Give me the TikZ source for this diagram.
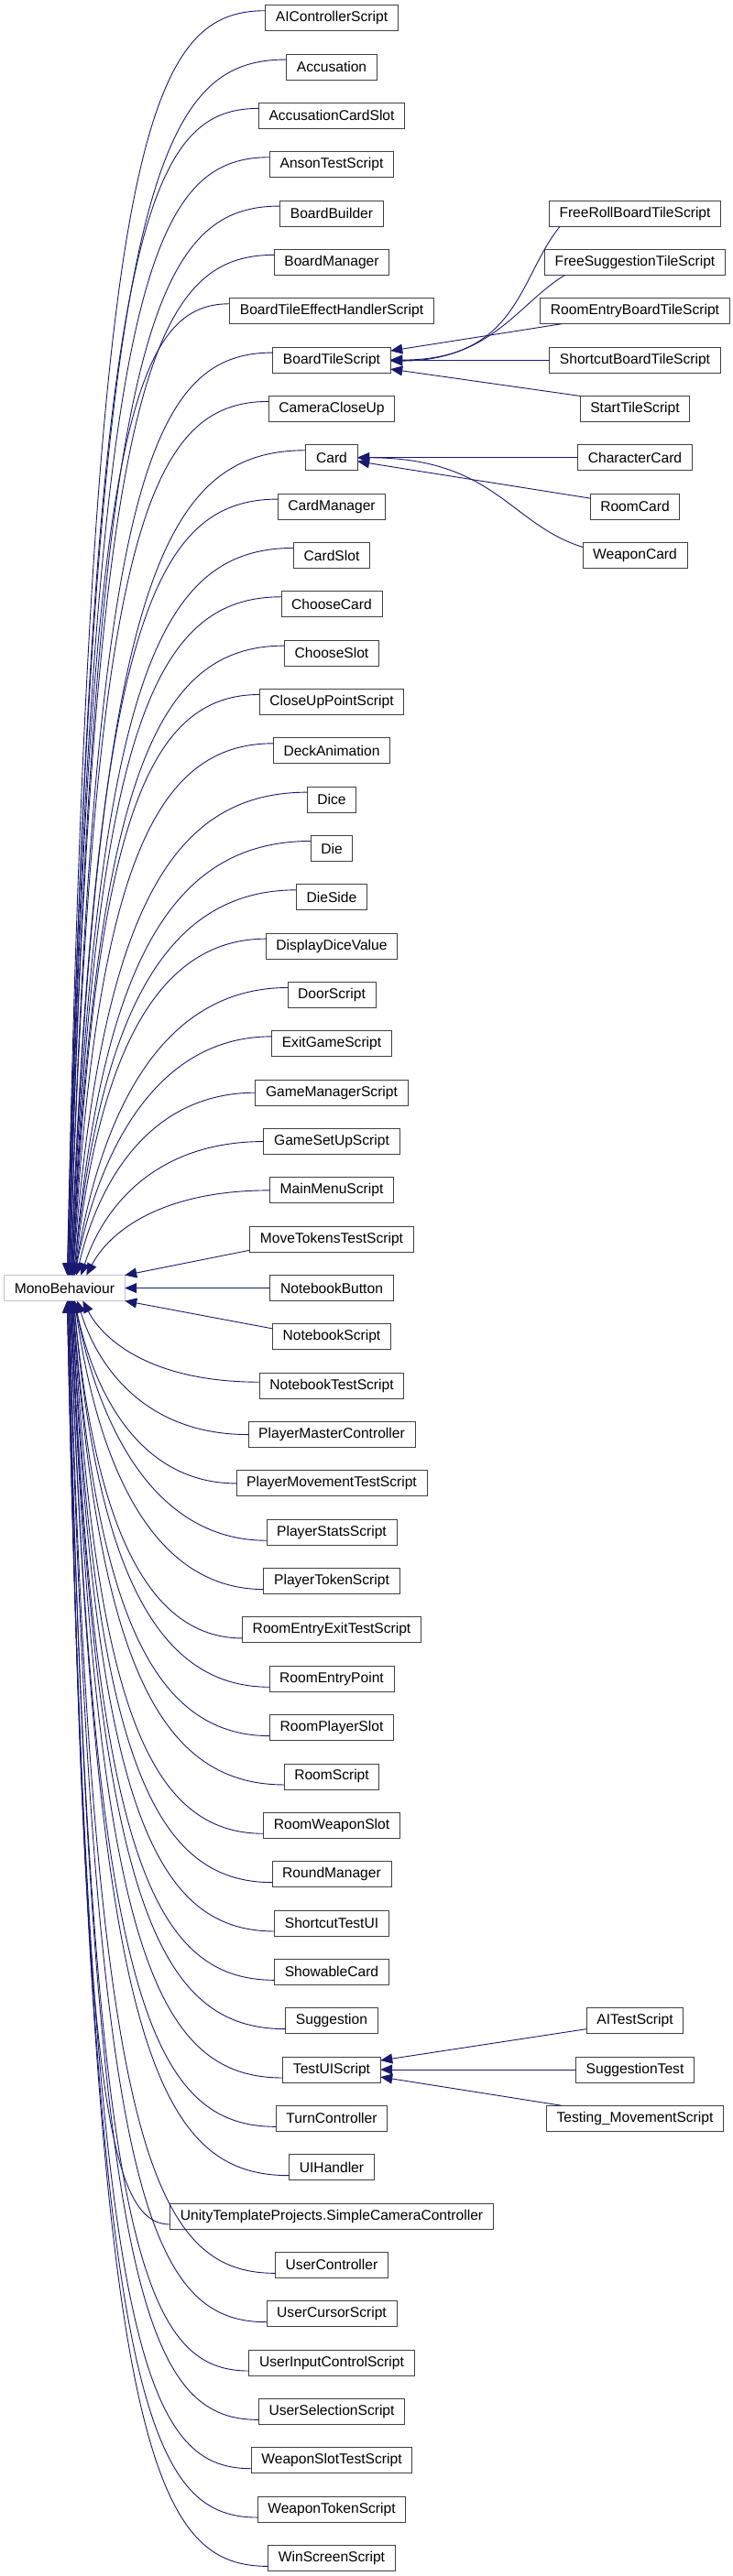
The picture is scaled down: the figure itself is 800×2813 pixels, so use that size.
\documentclass[tikz,border=0pt]{standalone}
\usepackage{fontspec}
\setmainfont{Liberation Sans}
\usepackage{xcolor}
\usepackage{tikz}
\usetikzlibrary{arrows.meta, positioning, calc}

\definecolor{navy}{RGB}{25,25,112}
\definecolor{boxline}{RGB}{64,64,64}
\definecolor{basegray}{RGB}{191,191,191}

\begin{document}
\begin{tikzpicture}[
    x=1pt, y=-1pt,
    node distance=25.34pt,
    cls/.style={rectangle, draw=boxline, line width=0.9pt, fill=white,
                minimum height=28pt, inner xsep=11.2pt, inner ysep=0pt,
                outer sep=0pt, font=\fontsize{15.6}{18}\selectfont},
    baseclass/.style={cls, draw=basegray},
    inh/.style={draw=navy, line width=0.9pt, -{Triangle[length=13pt, width=11pt]}},
    fandown/.style={to path={let \p1=(\tikztostart), \p2=(\tikztotarget),
        \n1={abs(\x1-\x2)}, \n2={min(140, 0.5*abs(\y1-\y2))} in
        .. controls (\x1-0.6*\n1, \y1) and (\x2+0.12*\n1, \y1-\n2) .. (\p2)}},
    fanup/.style={to path={let \p1=(\tikztostart), \p2=(\tikztotarget),
        \n1={abs(\x1-\x2)}, \n2={min(140, 0.5*abs(\y1-\y2))} in
        .. controls (\x1-0.6*\n1, \y1) and (\x2+0.12*\n1, \y1+\n2) .. (\p2)}},
]
\useasboundingbox (0,0) rectangle (800,2813);

% Derived classes column
\node[cls] (aicontrol) at (362,19.7) {AIControllerScript};
\node[cls, below=of aicontrol] (accusation) {Accusation};
\node[cls, below=of accusation] (accslot) {AccusationCardSlot};
\node[cls, below=of accslot] (anson) {AnsonTestScript};
\node[cls, below=of anson] (bbuilder) {BoardBuilder};
\node[cls, below=of bbuilder] (bmanager) {BoardManager};
\node[cls, below=of bmanager] (btehandler) {BoardTileEffectHandlerScript};
\node[cls, below=of btehandler] (btile) {BoardTileScript};
\node[cls, below=of btile] (camclose) {CameraCloseUp};
\node[cls, below=of camclose] (card) {Card};
\node[cls, below=of card] (cardmgr) {CardManager};
\node[cls, below=of cardmgr] (cardslot) {CardSlot};
\node[cls, below=of cardslot] (choosecard) {ChooseCard};
\node[cls, below=of choosecard] (chooseslot) {ChooseSlot};
\node[cls, below=of chooseslot] (closeup) {CloseUpPointScript};
\node[cls, below=of closeup] (deckanim) {DeckAnimation};
\node[cls, below=of deckanim] (dice) {Dice};
\node[cls, below=of dice] (die) {Die};
\node[cls, below=of die] (dieside) {DieSide};
\node[cls, below=of dieside] (dispdice) {DisplayDiceValue};
\node[cls, below=of dispdice] (door) {DoorScript};
\node[cls, below=of door] (exitgame) {ExitGameScript};
\node[cls, below=of exitgame] (gamemgr) {GameManagerScript};
\node[cls, below=of gamemgr] (gamesetup) {GameSetUpScript};
\node[cls, below=of gamesetup] (mainmenu) {MainMenuScript};
\node[cls, below=of mainmenu] (movetokens) {MoveTokensTestScript};
\node[cls, below=of movetokens] (nbbutton) {NotebookButton};
\node[cls, below=of nbbutton] (nbscript) {NotebookScript};
\node[cls, below=of nbscript] (nbtest) {NotebookTestScript};
\node[cls, below=of nbtest] (plmaster) {PlayerMasterController};
\node[cls, below=of plmaster] (plmovetest) {PlayerMovementTestScript};
\node[cls, below=of plmovetest] (plstats) {PlayerStatsScript};
\node[cls, below=of plstats] (pltoken) {PlayerTokenScript};
\node[cls, below=of pltoken] (reexittest) {RoomEntryExitTestScript};
\node[cls, below=of reexittest] (rentry) {RoomEntryPoint};
\node[cls, below=of rentry] (rplslot) {RoomPlayerSlot};
\node[cls, below=of rplslot] (rscript) {RoomScript};
\node[cls, below=of rscript] (rweapslot) {RoomWeaponSlot};
\node[cls, below=of rweapslot] (roundmgr) {RoundManager};
\node[cls, below=of roundmgr] (shortcutui) {ShortcutTestUI};
\node[cls, below=of shortcutui] (showable) {ShowableCard};
\node[cls, below=of showable] (suggestion) {Suggestion};
\node[cls, below=of suggestion] (testui) {TestUIScript};
\node[cls, below=of testui] (turnctrl) {TurnController};
\node[cls, below=of turnctrl] (uihandler) {UIHandler};
\node[cls, below=of uihandler] (simplecam) {UnityTemplateProjects.SimpleCameraController};
\node[cls, below=of simplecam] (userctrl) {UserController};
\node[cls, below=of userctrl] (usercursor) {UserCursorScript};
\node[cls, below=of usercursor] (userinput) {UserInputControlScript};
\node[cls, below=of userinput] (usersel) {UserSelectionScript};
\node[cls, below=of usersel] (wslottest) {WeaponSlotTestScript};
\node[cls, below=of wslottest] (wtoken) {WeaponTokenScript};
\node[cls, below=of wtoken] (winscreen) {WinScreenScript};

% Base class
\coordinate (lcol) at (70.4,0);
\node[baseclass] (mono) at (lcol |- nbbutton) {MonoBehaviour};

% Second level column
\coordinate (rcol) at (693,0);
\node[cls] (frbts) at (rcol |- bbuilder) {FreeRollBoardTileScript};
\node[cls] (fsts) at (rcol |- bmanager) {FreeSuggestionTileScript};
\node[cls] (rebts) at (rcol |- btehandler) {RoomEntryBoardTileScript};
\node[cls] (sbts) at (rcol |- btile) {ShortcutBoardTileScript};
\node[cls] (stscript) at (rcol |- camclose) {StartTileScript};
\node[cls] (charcard) at (rcol |- card) {CharacterCard};
\node[cls] (roomcard) at (rcol |- cardmgr) {RoomCard};
\node[cls] (weapcard) at (rcol |- cardslot) {WeaponCard};
\node[cls] (aitest) at (rcol |- suggestion) {AITestScript};
\node[cls] (suggtest) at (rcol |- testui) {SuggestionTest};
\node[cls] (testmove) at (rcol |- turnctrl) {Testing\_MovementScript};

% Edges into MonoBehaviour from above
\draw[inh, fandown] ([yshift=-6pt]aicontrol.north west) to ([xshift=3pt]mono.north);
\draw[inh, fandown] ([yshift=-6pt]accusation.north west) to ([xshift=3pt]mono.north);
\draw[inh, fandown] ([yshift=-6pt]accslot.north west) to ([xshift=4pt]mono.north);
\draw[inh, fandown] ([yshift=-6pt]anson.north west) to ([xshift=4pt]mono.north);
\draw[inh, fandown] ([yshift=-6pt]bbuilder.north west) to ([xshift=5pt]mono.north);
\draw[inh, fandown] ([yshift=-6pt]bmanager.north west) to ([xshift=5pt]mono.north);
\draw[inh, fandown] ([yshift=-6pt]btehandler.north west) to ([xshift=5pt]mono.north);
\draw[inh, fandown] ([yshift=-6pt]btile.north west) to ([xshift=6pt]mono.north);
\draw[inh, fandown] ([yshift=-6pt]camclose.north west) to ([xshift=6pt]mono.north);
\draw[inh, fandown] ([yshift=-6pt]card.north west) to ([xshift=7pt]mono.north);
\draw[inh, fandown] ([yshift=-6pt]cardmgr.north west) to ([xshift=7pt]mono.north);
\draw[inh, fandown] ([yshift=-6pt]cardslot.north west) to ([xshift=7pt]mono.north);
\draw[inh, fandown] ([yshift=-6pt]choosecard.north west) to ([xshift=8pt]mono.north);
\draw[inh, fandown] ([yshift=-6pt]chooseslot.north west) to ([xshift=8pt]mono.north);
\draw[inh, fandown] ([yshift=-6pt]closeup.north west) to ([xshift=9pt]mono.north);
\draw[inh, fandown] ([yshift=-6pt]deckanim.north west) to ([xshift=9pt]mono.north);
\draw[inh, fandown] ([yshift=-6pt]dice.north west) to ([xshift=9pt]mono.north);
\draw[inh, fandown] ([yshift=-6pt]die.north west) to ([xshift=10pt]mono.north);
\draw[inh, fandown] ([yshift=-6pt]dieside.north west) to ([xshift=10pt]mono.north);
\draw[inh, fandown] ([yshift=-6pt]dispdice.north west) to ([xshift=11pt]mono.north);
\draw[inh, fandown] ([yshift=-6pt]door.north west) to ([xshift=11pt]mono.north);
\draw[inh, fandown] ([yshift=-6pt]exitgame.north west) to ([xshift=11pt]mono.north);
\draw[inh, fandown] (gamemgr.west) to ([xshift=13pt]mono.north);
\draw[inh, fandown] (gamesetup.west) to ([xshift=18pt]mono.north);
\draw[inh, fandown] (mainmenu.west) to ([xshift=24pt]mono.north);

% Edges into MonoBehaviour from the side
\draw[inh] ([yshift=2pt]movetokens.south west) -- (mono.north east);
\draw[inh] (nbbutton.west) -- (mono.east);
\draw[inh] ([yshift=-5pt]nbscript.north west) -- (mono.south east);

% Edges into MonoBehaviour from below
\draw[inh, fanup] ([yshift=-10pt]nbtest.north west) to ([xshift=20pt]mono.south);
\draw[inh, fanup] (plmaster.west) to ([xshift=14pt]mono.south);
\draw[inh, fanup] (plmovetest.west) to ([xshift=11pt]mono.south);
\draw[inh, fanup] ([yshift=5pt]plstats.south west) to ([xshift=11pt]mono.south);
\draw[inh, fanup] ([yshift=5pt]pltoken.south west) to ([xshift=11pt]mono.south);
\draw[inh, fanup] ([yshift=5pt]reexittest.south west) to ([xshift=10pt]mono.south);
\draw[inh, fanup] ([yshift=5pt]rentry.south west) to ([xshift=10pt]mono.south);
\draw[inh, fanup] ([yshift=5pt]rplslot.south west) to ([xshift=9pt]mono.south);
\draw[inh, fanup] ([yshift=5pt]rscript.south west) to ([xshift=9pt]mono.south);
\draw[inh, fanup] ([yshift=5pt]rweapslot.south west) to ([xshift=9pt]mono.south);
\draw[inh, fanup] ([yshift=5pt]roundmgr.south west) to ([xshift=8pt]mono.south);
\draw[inh, fanup] ([yshift=5pt]shortcutui.south west) to ([xshift=8pt]mono.south);
\draw[inh, fanup] ([yshift=5pt]showable.south west) to ([xshift=7pt]mono.south);
\draw[inh, fanup] ([yshift=5pt]suggestion.south west) to ([xshift=7pt]mono.south);
\draw[inh, fanup] ([yshift=5pt]testui.south west) to ([xshift=7pt]mono.south);
\draw[inh, fanup] ([yshift=5pt]turnctrl.south west) to ([xshift=6pt]mono.south);
\draw[inh, fanup] ([yshift=5pt]uihandler.south west) to ([xshift=6pt]mono.south);
\draw[inh, fanup] ([yshift=5pt]simplecam.south west) to ([xshift=5pt]mono.south);
\draw[inh, fanup] ([yshift=5pt]userctrl.south west) to ([xshift=5pt]mono.south);
\draw[inh, fanup] ([yshift=5pt]usercursor.south west) to ([xshift=5pt]mono.south);
\draw[inh, fanup] ([yshift=5pt]userinput.south west) to ([xshift=4pt]mono.south);
\draw[inh, fanup] ([yshift=5pt]usersel.south west) to ([xshift=4pt]mono.south);
\draw[inh, fanup] ([yshift=5pt]wslottest.south west) to ([xshift=3pt]mono.south);
\draw[inh, fanup] ([yshift=5pt]wtoken.south west) to ([xshift=3pt]mono.south);
\draw[inh, fanup] ([yshift=5pt]winscreen.south west) to ([xshift=3pt]mono.south);

% BoardTileScript subclasses
\draw[inh] ([xshift=12pt]frbts.south west) .. controls +(-45,55) and +(140,0) .. (btile.east);
\draw[inh] ([xshift=22pt]fsts.south west) .. controls +(-50,30) and +(110,0) .. ([yshift=-1pt]btile.east);
\draw[inh] ([xshift=23pt]rebts.south west) -- ([yshift=10pt]btile.east);
\draw[inh] (sbts.west) -- (btile.east);
\draw[inh] (stscript.north west) -- ([yshift=-10pt]btile.east);

% Card subclasses
\draw[inh] (charcard.west) -- (card.east);
\draw[inh] ([yshift=-5pt]roomcard.north west) -- ([yshift=-4pt]card.east);
\draw[inh] ([yshift=-5pt]weapcard.north west) .. controls +(-80,-25) and +(150,0) .. (card.east);

% TestUIScript subclasses
\draw[inh] ([yshift=5pt]aitest.south west) -- ([yshift=10pt]testui.east);
\draw[inh] (suggtest.west) -- (testui.east);
\draw[inh] ([xshift=17pt]testmove.north west) -- ([yshift=-8pt]testui.east);

\end{tikzpicture}
\end{document}
